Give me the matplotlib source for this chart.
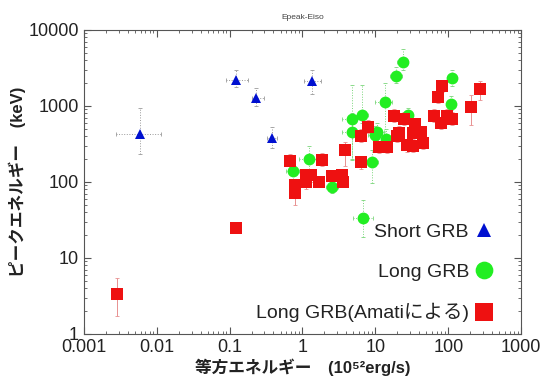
import matplotlib
matplotlib.use("Agg")
import numpy as np
from matplotlib import pyplot as plt

plt.rcParams['font.family'] = ['Liberation Sans', 'Noto Sans CJK JP', 'DejaVu Sans']

# Short GRB: Eiso (1e52 erg), Epeak (keV) and error ranges
short_x = [0.0059, 0.123, 0.232, 0.385, 1.37]
short_y = [430, 2200, 1275, 379, 2130]
short_ylo = [230, 1750, 1000, 280, 1450]
short_yhi = [950, 3000, 1700, 520, 3000]
short_xlo = [0.0028, 0.09, 0.2, 0.33, 1.05]
short_xhi = [0.0115, 0.18, 0.3, 0.45, 1.8]

# Long GRB
long_x = [23.7, 19, 112, 13.4, 108, 27.7, 6.5, 4.85, 4.85, 10.4, 10, 13.8, 1.24, 0.73, 9.1, 2.57, 6.7]
long_y = [3790, 2480, 2340, 1130, 1060, 762, 762, 675, 455, 455, 415, 368, 201, 140, 183, 86, 34]
long_ylo = [3000, 2000, 1800, 265, 880, 600, 600, 195, 200, 350, 300, 250, 150, 110, 97, 72, 19]
long_yhi = [5600, 3200, 3000, 2000, 1350, 950, 1900, 1900, 800, 600, 550, 500, 300, 180, 265, 100, 58]
long_xlo = [20, 16, 95, 10, 95, 24, 5, 3.5, 3.5, 8.5, 8, 11, 0.9, 0.6, 7.5, 2.1, 4.9]
long_xhi = [28, 23, 130, 17, 125, 32, 8, 6.5, 6.5, 13, 12.5, 17, 1.6, 0.9, 11, 3.1, 9.3]

# Long GRB (Amati)
amati_x = [81, 271, 72, 204, 17.8, 24.4, 63, 95, 112, 79, 34.7, 7.8, 41.9, 32.4, 20.9, 20, 6.25,
           27, 32.4, 44.6, 11.1, 14.3, 3.89, 6.25, 1.88, 0.68, 1.13, 1.29, 1.13, 0.80, 0.80,
           1.71, 2.58, 3.43, 3.54, 0.123, 0.00284]
amati_y = [1830, 1670, 1310, 970, 739, 675, 739, 739, 675, 597, 580, 530, 455, 441, 441, 403, 403,
           307, 298, 326, 289, 289, 264, 183, 195, 189, 124, 124, 100, 91, 72,
           100, 120, 124, 100, 25, 3.4]
amati_ylo = [1500, 1200, 1100, 560, 620, 560, 620, 620, 560, 500, 480, 440, 380, 370, 370, 330, 330,
             250, 250, 270, 240, 240, 160, 150, 160, 150, 100, 100, 80, 75, 50,
             85, 100, 100, 85, 23, 1.7]
amati_yhi = [2200, 2100, 1550, 1400, 900, 820, 900, 900, 820, 720, 700, 650, 550, 540, 540, 490, 490,
             370, 360, 400, 350, 350, 330, 220, 240, 230, 150, 150, 120, 110, 92,
             120, 145, 150, 120, 27, 5.5]
amati_xerr = 0.12  # relative

fig = plt.figure(figsize=(5.48, 3.85), dpi=100)
ax = fig.add_axes([0.153, 0.1325, 0.798, 0.79])


def draw(x, y, ylo, yhi, xlo, xhi, ecol, ls, marker, color, ms, label):
    x = np.array(x)
    y = np.array(y)
    yerr = [y - np.array(ylo), np.array(yhi) - y]
    xerr = [x - np.array(xlo), np.array(xhi) - x]
    eb = ax.errorbar(x, y, yerr=yerr, xerr=xerr, fmt='none', ecolor=ecol,
                     elinewidth=0.7, capsize=1.5, capthick=0.6, zorder=2)
    for lc in eb[2]:
        lc.set_linestyle(ls)
    ax.plot(x, y, linestyle='none', marker=marker, color=color, markersize=ms,
            markeredgewidth=0, label=label, zorder=3)


draw(short_x, short_y, short_ylo, short_yhi, short_xlo, short_xhi,
     '#9a9a9a', ':', '^', '#0010d0', 7, 'Short GRB')
draw(long_x, long_y, long_ylo, long_yhi, long_xlo, long_xhi,
     '#7ad67a', ':', 'o', '#22ee22', 8.5, 'Long GRB')
ax_x = np.array(amati_x)
draw(amati_x, amati_y, amati_ylo, amati_yhi, ax_x * (1 - amati_xerr), ax_x * (1 + amati_xerr),
     '#e89090', '-', 's', '#ee1111', 9, 'Long GRB(Amatiによる)')

ax.set_xscale('log')
ax.set_yscale('log')
ax.set_xlim(0.001, 1000)
ax.set_ylim(1, 10000)
ax.set_xticks([0.001, 0.01, 0.1, 1, 10, 100, 1000])
ax.set_xticklabels(['0.001', '0.01', '0.1', '1', '10', '100', '1000'])
ax.set_yticks([1, 10, 100, 1000, 10000])
ax.set_yticklabels(['1', '10', '100', '1000', '10000'])
ax.tick_params(which='both', direction='in', top=True, right=True, colors='#555555',
               labelcolor='#222222', labelsize=13)
ax.tick_params(which='major', length=5)
ax.tick_params(which='minor', length=2.5)
for s in ax.spines.values():
    s.set_color('#555555')

ax.set_title('Epeak-Eiso', fontsize=6, color='#444444', pad=8)
ax.set_xlabel('等方エネルギー　(10⁵²erg/s)', fontsize=12, fontweight='bold',
              color='#222222', labelpad=2)
ax.set_ylabel('ピークエネルギー　(keV)', fontsize=12, fontweight='bold', color='#222222',
              labelpad=2)

ax.legend(loc='lower right', frameon=False, markerfirst=False, fontsize=14,
          markerscale=1.5, handletextpad=0.3, labelspacing=1.15, borderaxespad=0.2,
          handlelength=1.0, labelcolor='#222222', bbox_to_anchor=(0.965, 0.0))

plt.savefig('out.png', dpi=100)
